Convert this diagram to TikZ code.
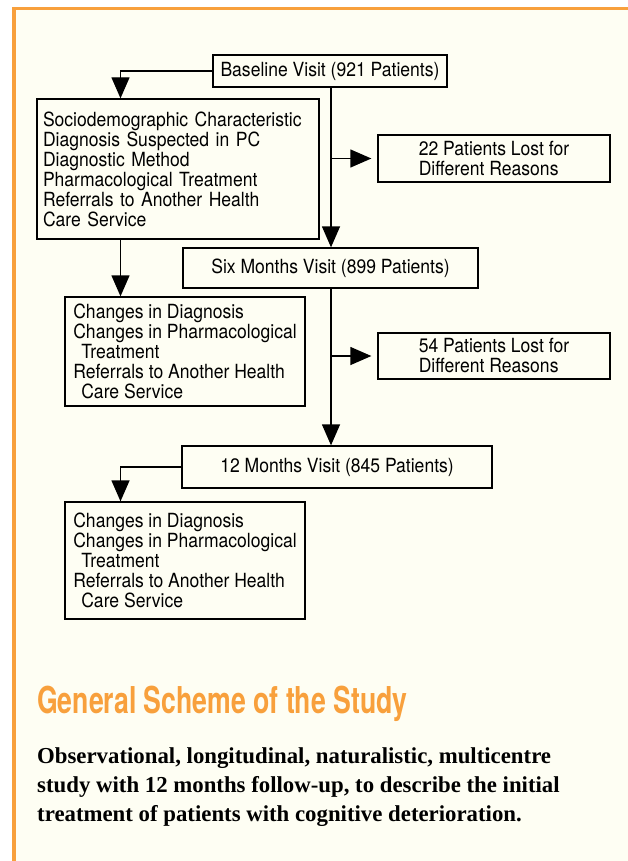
\documentclass[tikz,border=0pt]{standalone}
\usepackage{fontspec}
\usepackage{xcolor}
\usetikzlibrary{arrows.meta,positioning}
\newfontfamily\boxfont[FakeStretch=0.9]{TeX Gyre Heros}
\newfontfamily\titlefont[FakeStretch=0.72]{TeX Gyre Heros}
\newfontfamily\bodyfont{Liberation Serif}
\definecolor{cream}{RGB}{254,254,243}
\definecolor{schemeorange}{RGB}{248,160,60}

\tikzset{
  visit/.style={draw, line width=1.3pt, rectangle, inner sep=0pt, align=left,
    font=\boxfont\fontsize{19.5}{20}\selectfont},
  flow/.style={line width=1.3pt, -{Triangle[length=21pt,width=18pt]}},
}

\begin{document}
\begin{tikzpicture}[x=1pt, y=-1pt]
  % page and frame
  \fill[white] (0,0) rectangle (628,861);
  \useasboundingbox (0,0) rectangle (628,861);
  \fill[cream] (14,8.5) rectangle (628,861);
  \draw[schemeorange, line width=3.5pt] (14,861) -- (14,8.5) -- (628,8.5);

  % visits
  \node[visit, minimum width=234pt, minimum height=32pt] (base) at (330,71)
    {Baseline Visit (921 Patients)};
  \node[visit, minimum width=295pt, minimum height=40pt] (six) at (330.5,268)
    {Six Months Visit (899 Patients)};
  \node[visit, minimum width=310pt, minimum height=42pt] (twelve) at (337,467)
    {12 Months Visit (845 Patients)};

  % losses
  \node[visit, minimum width=232pt, minimum height=47pt] (lostA) at (494,158.5)
    {22 Patients Lost for\\Different Reasons};
  \node[visit, minimum width=232pt, minimum height=46pt] (lostB) at (494,356)
    {54 Patients Lost for\\Different Reasons};

  % collected data
  \node[visit, text width=270pt, inner xsep=6pt, minimum height=140pt] (info) at (178,169)
    {Sociodemographic Characteristic\\Diagnosis Suspected in PC\\Diagnostic Method\\
     Pharmacological Treatment\\Referrals to Another Health\\Care Service};
  \node[visit, minimum width=240pt, minimum height=109pt] (chgA) at (185,351.5)
    {Changes in Diagnosis\\Changes in Pharmacological\\\hspace*{8pt}Treatment\\
     Referrals to Another Health\\\hspace*{8pt}Care Service};
  \node[visit, minimum width=240pt, minimum height=117pt] (chgB) at (185,560.5)
    {Changes in Diagnosis\\Changes in Pharmacological\\\hspace*{8pt}Treatment\\
     Referrals to Another Health\\\hspace*{8pt}Care Service};

  \coordinate (lane) at (120.5,0);
  \coordinate (trunk) at (331,0);

  \draw[flow] (base.west) -| (lane |- info.north);
  \draw[flow] (lane |- info.south) -- (lane |- chgA.north);
  \draw[flow] (twelve.west) -| (lane |- chgB.north);

  \draw[flow] (trunk |- base.south) -- (trunk |- six.north);
  \draw[flow] (trunk |- six.south) -- (trunk |- twelve.north);
  \draw[flow, shorten >=6pt] (trunk |- lostA.west) -- (lostA.west);
  \draw[flow, shorten >=6pt] (trunk |- lostB.west) -- (lostB.west);

  % caption
  \node[anchor=base west, inner sep=0pt, text=schemeorange,
    font=\titlefont\bfseries\fontsize{37}{40}\selectfont] (title) at (37,713)
    {General Scheme of the Study};
  \node[anchor=base west, inner sep=0pt, align=left,
    font=\bodyfont\bfseries\fontsize{22.8}{29}\selectfont] (summary) at (37,821)
    {Observational, longitudinal, naturalistic, multicentre\\
     study with 12 months follow-up, to describe the initial\\
     treatment of patients with cognitive deterioration.};
\end{tikzpicture}
\end{document}
